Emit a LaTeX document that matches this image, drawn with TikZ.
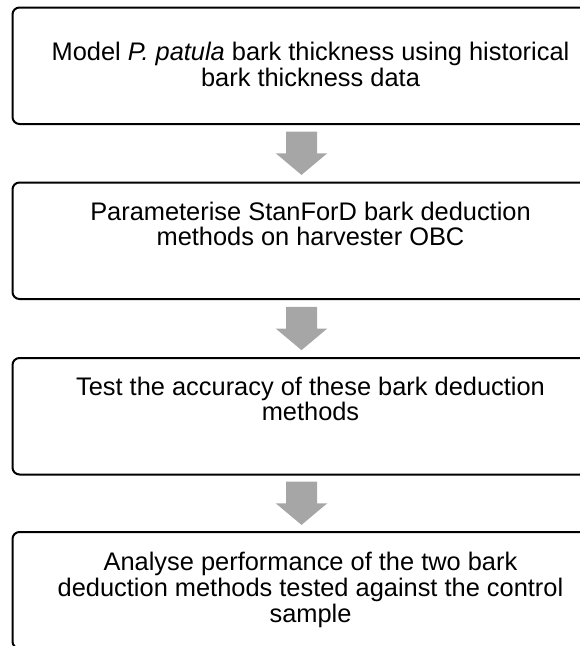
\documentclass[tikz,border=0pt]{standalone}
\usepackage{fontspec}
\setmainfont{Liberation Sans}
\usetikzlibrary{calc}
\definecolor{arrgray}{RGB}{166,166,166}
\tikzset{
  box/.style={draw=black, line width=2pt, rounded corners=7pt, minimum width=594.5pt,
    minimum height=116.5pt, inner sep=0pt, outer sep=0pt, anchor=north west},
  txt/.style={font=\fontsize{25.4}{25.8}\selectfont, align=center, inner sep=0pt, text=black},
  blockarr/.style={fill=arrgray, draw=none},
}
\newcommand\blockarrow[1]{%
  \fill[blockarr] ($(#1)+(-15.5,-21.65)$) -- ($(#1)+(15.5,-21.65)$) -- ($(#1)+(15.5,0)$)
    -- ($(#1)+(25.8,0)$) -- ($(#1)+(0,21.65)$) -- ($(#1)+(-25.8,0)$) -- ($(#1)+(-15.5,0)$) -- cycle;}
\begin{document}
\begin{tikzpicture}[x=1pt,y=-1pt]
\useasboundingbox (0,0) rectangle (579,646);
\node[box] (b1) at (12.5,7.5) {};
\node[box] (b2) at (12.5,182.5) {};
\node[box] (b3) at (12.5,358) {};
\node[box] (b4) at (12.5,532) {};
\node[txt] (t1) at (310.5,64.5) {Model \textit{P. patula} bark thickness using historical\\bark thickness data};
\node[txt] (t2) at (310.5,224) {Parameterise StanForD bark deduction\\methods on harvester OBC};
\node[txt] (t3) at (310.5,399) {Test the accuracy of these bark deduction\\methods};
\node[txt] (t4) at (310.5,590) {Analyse performance of the two bark\\deduction methods tested against the control\\sample};
\coordinate (a1) at ($(b1.south)!0.5!(b2.north)+(-8.25,0)$);
\coordinate (a2) at ($(b2.south)!0.5!(b3.north)+(-8.25,0)$);
\coordinate (a3) at ($(b3.south)!0.5!(b4.north)+(-8.25,0)$);
\blockarrow{a1}
\blockarrow{a2}
\blockarrow{a3}
\end{tikzpicture}
\end{document}
